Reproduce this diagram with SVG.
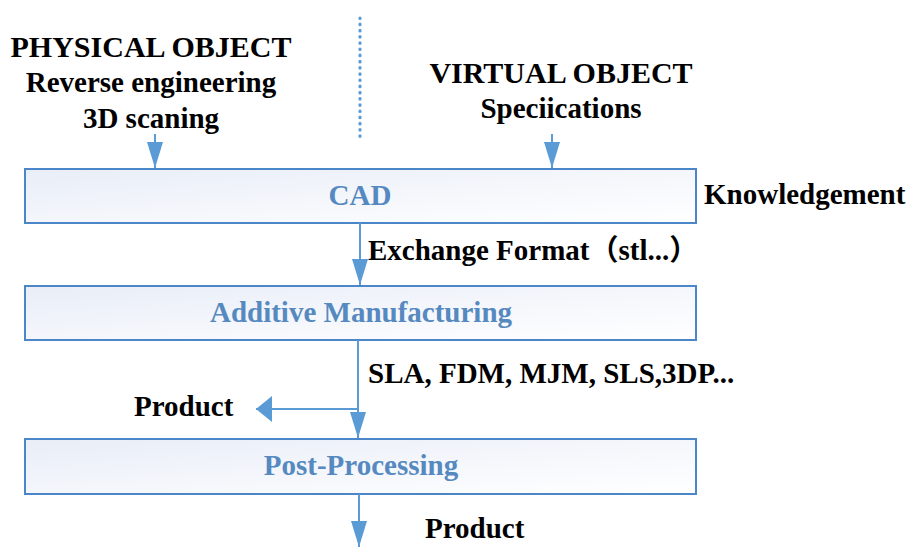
<svg xmlns="http://www.w3.org/2000/svg" width="910" height="547" viewBox="0 0 910 547">
<defs>
<linearGradient id="boxfill" x1="0" y1="0" x2="1" y2="1">
<stop offset="0" stop-color="#e8edf7"/>
<stop offset="0.6" stop-color="#f6f8fc"/>
<stop offset="1" stop-color="#ffffff"/>
</linearGradient>
<marker id="ah" viewBox="0 0 16 26" refX="16" refY="13" markerWidth="16" markerHeight="26" markerUnits="userSpaceOnUse" orient="auto">
<path d="M0,0 L16,13 L0,26 Z" fill="#5b9bd5"/>
</marker>
<marker id="ahs" viewBox="0 0 26 16" refX="26" refY="8" markerWidth="26" markerHeight="16" markerUnits="userSpaceOnUse" orient="auto">
<path d="M0,0 L26,8 L0,16 Z" fill="#5b9bd5"/>
</marker>
</defs>
<style>
.box{fill:url(#boxfill);stroke:#4a86c8;stroke-width:2}
.lbl{font-family:"Liberation Serif","Times New Roman",serif;font-weight:bold;fill:#5689c0;font-size:29px;text-anchor:middle}
.t{font-family:"Liberation Serif","Times New Roman","Noto Sans CJK SC",serif;font-weight:bold;fill:#000;font-size:29px}
.h{font-size:30px}
.c{text-anchor:middle}
.ln{stroke:#5b9bd5;stroke-width:2;fill:none}
</style>
<g id="physical">
<text class="t c h" x="151" y="57">PHYSICAL OBJECT</text>
<text class="t c" x="151" y="92">Reverse engineering</text>
<text class="t c" x="151" y="128">3D scaning</text>
</g>
<g id="virtual">
<text class="t c h" x="561" y="83">VIRTUAL OBJECT</text>
<text class="t c" x="561" y="118">Speciications</text>
</g>
<g id="cad">
<rect class="box" x="25" y="169" width="671" height="54"/>
<text class="lbl" x="360" y="205">CAD</text>
</g>
<g id="knowledgement">
<text class="t" x="704" y="204">Knowledgement</text>
</g>
<g id="am">
<rect class="box" x="25" y="286" width="671" height="54"/>
<text class="lbl" x="361" y="322">Additive Manufacturing</text>
</g>
<g id="pp">
<rect class="box" x="25" y="439" width="671" height="55"/>
<text class="lbl" x="361" y="475">Post-Processing</text>
</g>
<g id="connectors">
<line x1="360" y1="18" x2="360" y2="141" stroke="#5b9bd5" stroke-width="3.2" stroke-linecap="round" stroke-dasharray="0.5 5.7"/>
<line class="ln" x1="155" y1="134" x2="155" y2="168" marker-end="url(#ahs)"/>
<line class="ln" x1="552" y1="134" x2="552" y2="168" marker-end="url(#ahs)"/>
<line class="ln" x1="360" y1="223" x2="360" y2="285" marker-end="url(#ahs)"/>
<line class="ln" x1="358" y1="340" x2="358" y2="438" marker-end="url(#ahs)"/>
<line class="ln" x1="358" y1="409" x2="256" y2="409" stroke-width="2.5" marker-end="url(#ah)"/>
<line class="ln" x1="359" y1="494" x2="359" y2="547" marker-end="url(#ahs)"/>
</g>
<g id="edge-labels">
<text class="t" x="368" y="260">Exchange Format（stl...）</text>
<text class="t" x="368" y="383">SLA, FDM, MJM, SLS,3DP...</text>
<text class="t" x="134" y="416">Product</text>
<text class="t" x="425" y="538">Product</text>
</g>
</svg>
